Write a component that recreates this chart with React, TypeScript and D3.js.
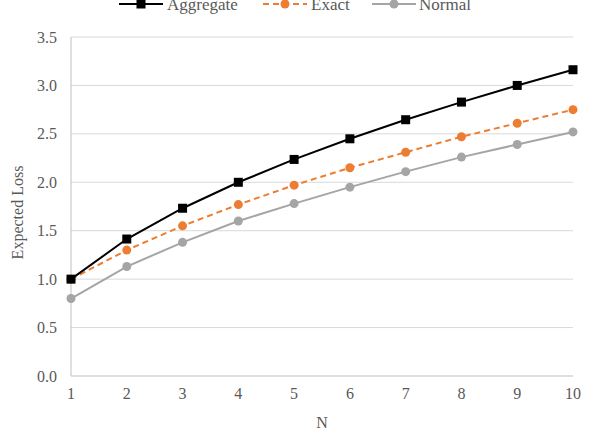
import React from "react";
import * as d3 from "d3";

const nValues = [1, 2, 3, 4, 5, 6, 7, 8, 9, 10];
const aggregate = [1.0, 1.414, 1.732, 2.0, 2.236, 2.449, 2.646, 2.828, 3.0, 3.162];
const exact = [1.0, 1.3, 1.55, 1.77, 1.97, 2.15, 2.31, 2.47, 2.61, 2.75];
const normal = [0.8, 1.13, 1.38, 1.6, 1.78, 1.95, 2.11, 2.26, 2.39, 2.52];
const yTicks = [0, 0.5, 1, 1.5, 2, 2.5, 3, 3.5];

const W = 594, H = 437;
const L = 71, R = 573, T = 37, B = 376;
const FONT = "Liberation Serif, Times New Roman, serif";

export default function App() {
  const x = d3.scaleLinear().domain([1, 10]).range([L, R]);
  const y = d3.scaleLinear().domain([0, 3.5]).range([B, T]);
  const line = d3.line<number>().x((_, i) => x(nValues[i])).y((d) => y(d));

  const series = [
    { name: "Aggregate", data: aggregate, color: "#000000", dash: "", marker: "square" },
    { name: "Exact", data: exact, color: "#ED7D31", dash: "6,4", marker: "circle" },
    { name: "Normal", data: normal, color: "#A5A5A5", dash: "", marker: "circle" },
  ];

  const legend = [
    { x0: 119, text: 167 },
    { x0: 263, text: 311 },
    { x0: 372, text: 419 },
  ];

  const marker = (kind: string, cx: number, cy: number, color: string, key: any) =>
    kind === "square" ? (
      <rect key={key} x={cx - 4.5} y={cy - 4.5} width={9} height={9} fill={color} />
    ) : (
      <circle key={key} cx={cx} cy={cy} r={4.5} fill={color} />
    );

  return (
    <svg width={W} height={H} style={{ position: "absolute", left: 0, top: 0, background: "#fff" }}>
      {yTicks.map((t) => (
        <g key={t}>
          {t > 0 && <line x1={L} x2={R} y1={y(t)} y2={y(t)} stroke="#D9D9D9" strokeWidth={1} />}
          <text x={L - 14} y={y(t) + 5.5} textAnchor="end" fontFamily={FONT} fontSize={16} fill="#595959">
            {t.toFixed(1)}
          </text>
        </g>
      ))}
      <line x1={L} x2={L} y1={T} y2={B} stroke="#BFBFBF" strokeWidth={1} />
      <line x1={L} x2={R} y1={B} y2={B} stroke="#BFBFBF" strokeWidth={1} />
      {nValues.map((n) => (
        <text key={n} x={x(n)} y={B + 23} textAnchor="middle" fontFamily={FONT} fontSize={16} fill="#595959">
          {n}
        </text>
      ))}
      <text x={x(5.5)} y={428} textAnchor="middle" fontFamily={FONT} fontSize={16} fill="#595959">N</text>
      <text transform={`translate(23, ${(T + B) / 2 + 6}) rotate(-90)`} textAnchor="middle" fontFamily={FONT} fontSize={16} fill="#595959">
        Expected Loss
      </text>
      {series.slice().reverse().map((s) => (
        <g key={s.name}>
          <path d={line(s.data) || ""} fill="none" stroke={s.color} strokeWidth={2} strokeDasharray={s.dash} />
          {s.data.map((v, i) => marker(s.marker, x(nValues[i]), y(v), s.color, i))}
        </g>
      ))}
      {series.map((s, i) => (
        <g key={"lg" + s.name}>
          <line x1={legend[i].x0} x2={legend[i].x0 + 44} y1={4} y2={4} stroke={s.color} strokeWidth={2} strokeDasharray={s.dash} />
          {marker(s.marker, legend[i].x0 + 22, 4, s.color, "m")}
          <text x={legend[i].text} y={10} fontFamily={FONT} fontSize={17} fill="#595959">{s.name}</text>
        </g>
      ))}
    </svg>
  );
}
